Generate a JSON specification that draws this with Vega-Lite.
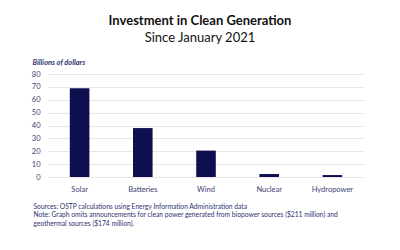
{
  "$schema": "https://vega.github.io/schema/vega-lite/v6.json",
  "width": 316,
  "height": 103,
  "autosize": {"type": "none"},
  "padding": {"left": 48, "top": 74, "right": 36, "bottom": 73},
  "background": "white",
  "title": {
    "text": "Investment in Clean Generation",
    "subtitle": "Since January 2021",
    "anchor": "middle",
    "dx": -6,
    "offset": 13,
    "font": "Lato",
    "fontSize": 13,
    "fontWeight": "bold",
    "color": "#111111",
    "subtitleFont": "Lato",
    "subtitleFontSize": 13,
    "subtitleColor": "#111111",
    "subtitlePadding": 4
  },
  "data": {
    "values": [
      {"source": "Solar", "value": 69},
      {"source": "Batteries", "value": 38},
      {"source": "Wind", "value": 20.5},
      {"source": "Nuclear", "value": 2.3},
      {"source": "Hydropower", "value": 1.5}
    ]
  },
  "mark": {"type": "bar", "color": "#0d0f4f"},
  "encoding": {
    "x": {
      "field": "source",
      "type": "nominal",
      "sort": null,
      "scale": {"paddingInner": 0.69, "paddingOuter": 0.345},
      "axis": {
        "labelAngle": 0,
        "domain": false,
        "ticks": false,
        "labelPadding": 8,
        "labelFont": "Lato",
        "labelFontSize": 7.5,
        "labelColor": "#3d4275",
        "title": [
          "Sources: OSTP calculations using Energy Information Administration data",
          "Note: Graph omits announcements for clean power generated from biopower sources ($211 million) and",
          "geothermal sources ($174 million)."
        ],
        "titleFont": "Lato",
        "titleFontSize": 6.7,
        "titleFontWeight": "normal",
        "titleColor": "#2e3270",
        "titleAnchor": "start",
        "titleAlign": "left",
        "titleBaseline": "top",
        "titleX": -15,
        "titleY": 26,
        "titleLineHeight": 8.5
      }
    },
    "y": {
      "field": "value",
      "type": "quantitative",
      "scale": {"domain": [0, 80]},
      "axis": {
        "values": [0, 10, 20, 30, 40, 50, 60, 70, 80],
        "domain": false,
        "ticks": false,
        "gridColor": "#e6e6e6",
        "labelPadding": 8,
        "labelFont": "Lato",
        "labelFontSize": 7.5,
        "labelColor": "#3d4275",
        "title": "Billions of dollars",
        "titleAngle": 0,
        "titleAlign": "left",
        "titleBaseline": "bottom",
        "titleX": -16,
        "titleY": -8,
        "titleFont": "Lato",
        "titleFontSize": 7.4,
        "titleFontStyle": "italic",
        "titleFontWeight": "bold",
        "titleColor": "#2e3270"
      }
    }
  },
  "config": {"view": {"stroke": null}}
}
